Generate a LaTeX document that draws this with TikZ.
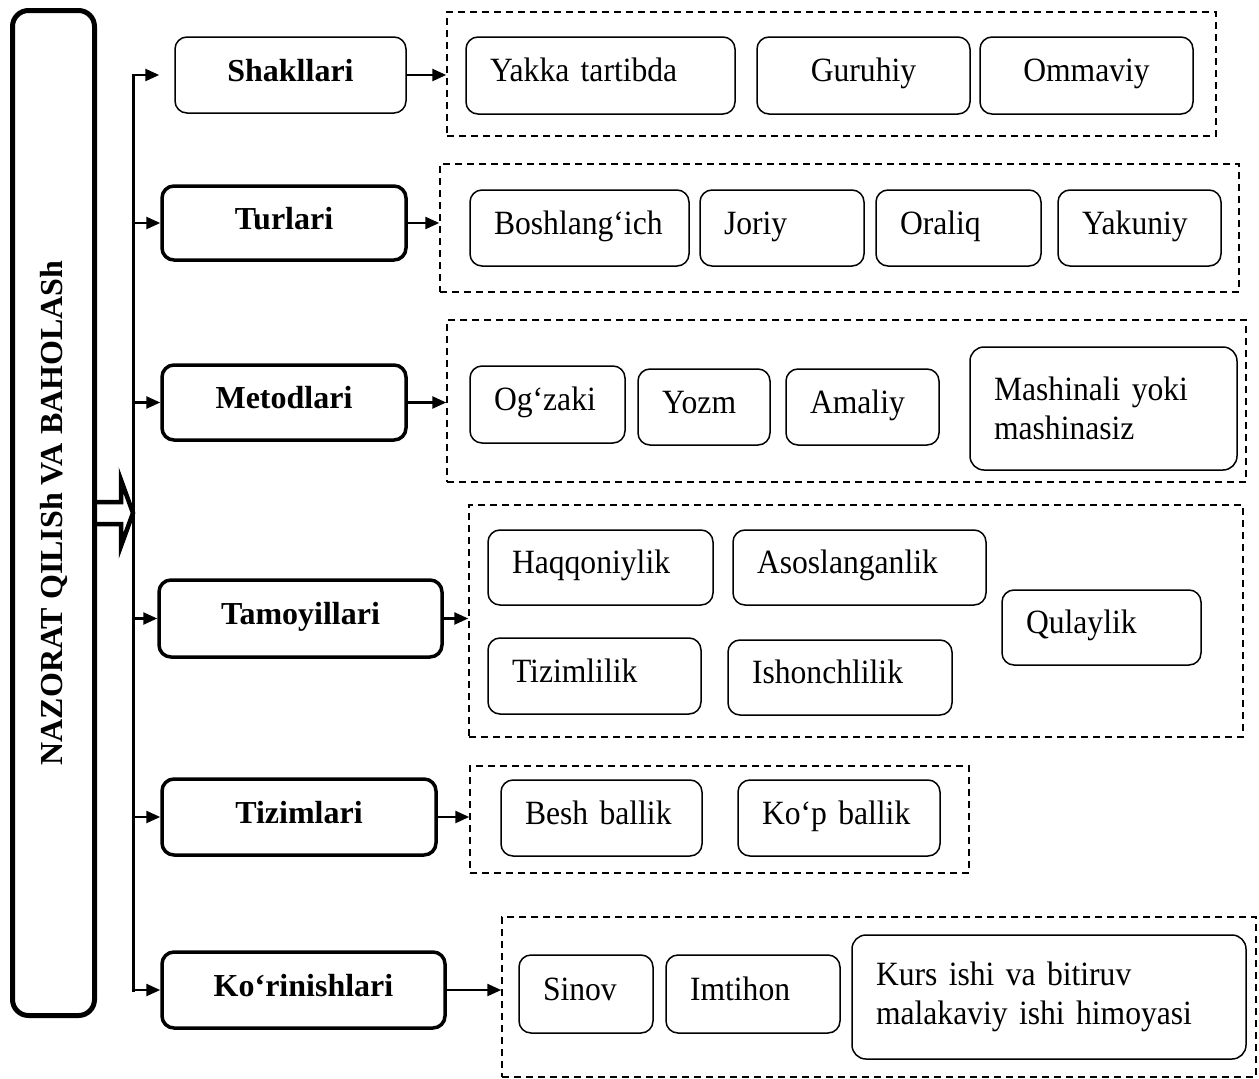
\documentclass[tikz,border=0pt]{standalone}
\usepackage{fontspec}
\setmainfont{Liberation Serif}
\newfontfamily\itemfont[FakeStretch=0.93,WordSpace=0.8]{Liberation Serif}
\usetikzlibrary{arrows.meta}
\begin{document}
\begin{tikzpicture}[x=1pt,y=-1pt,
  cat/.style={draw, rounded corners=12pt, line width=3.5pt, inner sep=0pt, align=center,
    font=\fontsize{32}{38}\selectfont\bfseries, text height=22pt, text depth=10pt},
  catthin/.style={cat, line width=1.5pt},
  grp/.style={draw, line width=1.5pt, dash pattern=on 7pt off 5pt, inner sep=0pt},
  itm/.style 2 args={draw, rounded corners=12pt, line width=1.5pt, inner xsep=24pt, inner ysep=0pt,
    align=left, text width=#1, minimum height=#2, text height=22pt, text depth=10pt,
    font=\itemfont\fontsize{34}{40}\selectfont},
  itmc/.style 2 args={itm={#1}{#2}, align=center},
  itmtwo/.style 2 args={draw, rounded corners=14pt, line width=1.5pt, inner xsep=24pt, inner ysep=0pt,
    align=left, text width=#1, minimum height=#2, font=\itemfont\fontsize{34}{39}\selectfont},
  arr/.style={-{Triangle[length=14pt,width=12pt]}, line width=2.5pt},
  hollow/.style={line width=4.5pt, line join=miter},
  busline/.style={line width=3pt, line cap=rect},
]
\useasboundingbox (0,0) rectangle (1259,1079);

% main vertical box
\node[draw, line width=5pt, rounded corners=16pt, rotate=90, minimum width=1005pt, minimum height=82pt,
  inner sep=0pt, font=\fontsize{32}{38}\selectfont\bfseries] (main) at (53.5,513) {NAZORAT QILISh VA BAHOLASh};

% categories
\node[catthin, minimum width=231pt, minimum height=76pt] (c1) at (290.5,75) {Shakllari};
\node[cat, minimum width=244pt, minimum height=74pt] (c2) at (284,223) {Turlari};
\node[cat, minimum width=244pt, minimum height=75pt] (c3) at (284,402.5) {Metodlari};
\node[cat, minimum width=283pt, minimum height=77pt] (c4) at (300.5,618.5) {Tamoyillari};
\node[cat, minimum width=274pt, minimum height=76pt] (c5) at (299,817) {Tizimlari};
\node[cat, minimum width=283pt, minimum height=76pt] (c6) at (303.5,990) {Ko‘rinishlari};

% groups
\node[grp, minimum width=769pt, minimum height=124pt] (g1) at (831.5,74) {};
\node[grp, minimum width=799pt, minimum height=128pt] (g2) at (839.5,228) {};
\node[grp, minimum width=799pt, minimum height=162pt] (g3) at (846.5,401) {};
\node[grp, minimum width=774pt, minimum height=232pt] (g4) at (856,621) {};
\node[grp, minimum width=499pt, minimum height=107pt] (g5) at (719.5,819.5) {};
\node[grp, minimum width=754pt, minimum height=160pt] (g6) at (879,997) {};

% group 1
\node[itm={221pt}{77pt}] (a1) at (600.5,75.5) {Yakka tartibda};
\node[itmc={165pt}{77pt}] (a2) at (863.5,75.5) {Guruhiy};
\node[itmc={165pt}{77pt}] (a3) at (1086.5,75.5) {Ommaviy};

% group 2
\node[itm={171pt}{76pt}] (b1) at (579.5,228) {Boshlang‘ich};
\node[itm={116pt}{76pt}] (b2) at (782,228) {Joriy};
\node[itm={117pt}{76pt}] (b3) at (958.5,228) {Oraliq};
\node[itm={115pt}{76pt}] (b4) at (1139.5,228) {Yakuniy};

% group 3
\node[itm={107pt}{77pt}] (m1) at (547.5,404.5) {Og‘zaki};
\node[itm={84pt}{76pt}] (m2) at (704,407) {Yozm};
\node[itm={105pt}{76pt}] (m3) at (862.5,407) {Amaliy};
\node[itmtwo={219pt}{123pt}] (m4) at (1103.5,408.5) {Mashinali yoki\\mashinasiz};

% group 4
\node[itm={177pt}{75pt}] (t1) at (600.5,567.5) {Haqqoniylik};
\node[itm={205pt}{75pt}] (t2) at (859.5,567.5) {Asoslanganlik};
\node[itm={151pt}{75pt}] (t3) at (1101.5,627.5) {Qulaylik};
\node[itm={165pt}{76pt}] (t4) at (594.5,676) {Tizimlilik};
\node[itm={176pt}{75pt}] (t5) at (840,677.5) {Ishonchlilik};

% group 5
\node[itm={153pt}{76pt}] (s1) at (601.5,818) {Besh ballik};
\node[itm={154pt}{76pt}] (s2) at (839,818) {Ko‘p ballik};

% group 6
\node[itm={86pt}{78pt}] (k1) at (586,994) {Sinov};
\node[itm={126pt}{78pt}] (k2) at (753,994) {Imtihon};
\node[itmtwo={346pt}{124pt}] (k3) at (1049,997) {Kurs ishi va bitiruv\\malakaviy ishi himoyasi};

% hollow arrow from main box to bus
\coordinate (bus) at (133,513);
\coordinate (busL) at (131.5,513);
\draw[hollow] (95,502) -- (121,502) -- (121,480) -- (bus) -- (121,546) -- (121,524) -- (95,524);

% bus
\draw[busline] (bus |- c1.west) -- (bus |- c6.west);
\draw[arr] (busL |- c1.west) -- ([xshift=-15pt]c1.west);
\draw[arr] (busL |- c2.west) -- (c2.west);
\draw[arr] (busL |- c3.west) -- (c3.west);
\draw[arr] (busL |- c4.west) -- (c4.west);
\draw[arr] (busL |- c5.west) -- (c5.west);
\draw[arr] (busL |- c6.west) -- (c6.west);

% category to group arrows
\draw[arr] (c1.east) -- (c1.east -| g1.west);
\draw[arr] (c2.east) -- (c2.east -| g2.west);
\draw[arr] (c3.east) -- (c3.east -| g3.west);
\draw[arr] (c4.east) -- (c4.east -| g4.west);
\draw[arr] (c5.east) -- (c5.east -| g5.west);
\draw[arr] (c6.east) -- (c6.east -| g6.west);
\end{tikzpicture}
\end{document}
